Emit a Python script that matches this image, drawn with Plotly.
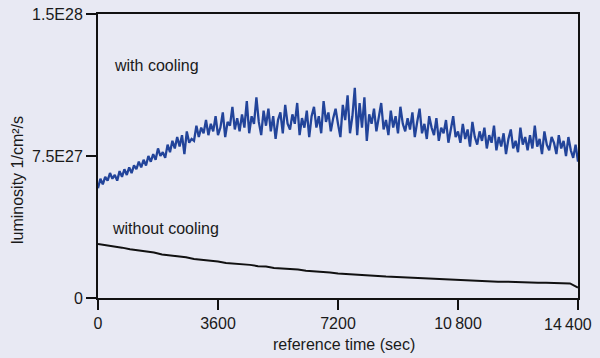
import numpy as np
import plotly.graph_objects as go

# luminosity in units of 1E27 1/cm^2/s
with_cooling = [
    5.8, 6.3, 6.0, 6.4, 6.2, 6.6, 6.3, 6.5, 6.2, 6.7,
    6.4, 6.8, 6.5, 6.9, 6.6, 7.0, 6.8, 7.2, 6.9, 7.3,
    7.0, 7.5, 7.2, 7.6, 7.3, 7.9, 7.5, 7.7, 7.4, 8.1,
    7.7, 8.3, 7.9, 8.5, 8.0, 8.6, 7.6, 8.8, 8.2, 8.4,
    8.3, 9.1, 8.5, 9.0, 8.7, 9.4, 8.6, 9.2, 8.8, 9.6,
    8.6, 9.0, 9.8, 8.5, 9.3, 9.1, 10.1, 8.9, 9.5, 8.8,
    9.7, 9.0, 10.4, 8.7, 9.6, 9.2, 10.6, 9.3, 8.6, 9.9,
    9.1, 10.0, 8.8, 9.6, 8.4, 9.4, 9.8, 8.7, 10.2, 9.2,
    8.9, 9.7, 9.2, 10.3, 8.6, 9.5, 9.0, 9.9, 8.5, 9.6,
    10.1, 9.0, 9.6, 8.7, 10.4, 9.3, 9.8, 8.8, 9.5, 10.0,
    9.2, 8.5, 10.2, 9.4, 10.7, 8.7, 9.6, 11.1, 8.6, 10.3,
    9.0, 10.6, 8.3, 9.7, 9.2, 10.0, 8.8, 9.5, 10.3, 8.9,
    9.4, 8.6, 9.9, 9.0, 9.6, 8.7, 10.1, 9.2, 8.8, 9.5,
    8.9, 9.8, 8.5, 9.3, 10.0, 8.7, 9.2, 8.4, 9.6, 9.0,
    8.6, 9.5, 8.3, 9.0, 8.7, 9.4, 8.2, 8.9, 9.6, 8.5,
    8.8, 8.2, 9.2, 8.4, 8.9, 8.0, 9.3, 8.5, 8.1, 8.8,
    8.3, 9.0, 7.9, 8.6, 8.2, 9.1, 7.8, 8.5, 8.0, 8.7,
    7.6, 8.4, 8.9, 7.9, 8.3, 7.7, 9.0, 8.1, 8.5, 7.8,
    8.6, 7.9, 9.1, 8.0, 8.4, 7.6, 8.8, 8.1, 7.8, 8.5,
    8.2, 7.6, 8.6, 7.9, 8.3, 7.5, 8.5, 7.8, 7.4, 8.1,
    7.2,
]

without_cooling = [
    2.85, 2.80, 2.71, 2.66, 2.57, 2.52, 2.43, 2.40, 2.30, 2.26,
    2.19, 2.15, 2.06, 2.02, 1.95, 1.93, 1.85, 1.82, 1.77, 1.75,
    1.68, 1.66, 1.59, 1.57, 1.52, 1.50, 1.44, 1.42, 1.37, 1.35,
    1.30, 1.28, 1.24, 1.22, 1.18, 1.16, 1.13, 1.11, 1.07, 1.06,
    1.03, 1.02, 0.98, 0.98, 0.95, 0.94, 0.92, 0.91, 0.89, 0.88,
    0.86, 0.86, 0.84, 0.83, 0.82, 0.81, 0.80, 0.79, 0.78, 0.77,
    0.55,
]

t_max = 14400
x_tickvals = [0, 3600, 7200, 10800, 14400]
x_ticktext = ["0", "3600", "7200", "10\u2009800", ""]
last_x_label = "14\u2009400"
y_tickvals = [0, 7.5e27, 1.5e28]
y_ticktext = ["0", "7.5E27", "1.5E28"]

t_with = np.linspace(0, t_max, len(with_cooling))
t_without = np.linspace(0, t_max, len(without_cooling))

BG = "#e8e9f3"
FONT = "Liberation Sans, Arial, sans-serif"
TXT = "#1a1a1a"

fig = go.Figure()
fig.add_trace(go.Scatter(x=t_with, y=np.array(with_cooling) * 1e27, mode="lines",
                         line=dict(color="#22449a", width=2.3), showlegend=False))
fig.add_trace(go.Scatter(x=t_without, y=np.array(without_cooling) * 1e27, mode="lines",
                         line=dict(color="#111111", width=2), showlegend=False))

fig.add_annotation(x=0.029, y=0.817, xref="paper", yref="paper", text="with cooling",
                   showarrow=False, xanchor="left", yanchor="middle",
                   font=dict(size=16, color=TXT, family=FONT))
fig.add_annotation(x=0.025, y=0.243, xref="paper", yref="paper", text="without cooling",
                   showarrow=False, xanchor="left", yanchor="middle",
                   font=dict(size=16, color=TXT, family=FONT))
# last x tick label, pulled in so it stays inside the picture
fig.add_annotation(x=1.033, y=-0.093, xref="paper", yref="paper", text=last_x_label,
                   showarrow=False, xanchor="right", yanchor="middle",
                   font=dict(size=16, color=TXT, family=FONT))
# axis titles
fig.add_annotation(x=0.5125, y=-0.165, xref="paper", yref="paper", text="reference time (sec)",
                   showarrow=False, xanchor="center", yanchor="middle",
                   font=dict(size=16, color=TXT, family=FONT))
fig.add_annotation(x=-0.169, y=0.415, xref="paper", yref="paper", text="luminosity 1/cm\u00b2/s",
                   showarrow=False, xanchor="center", yanchor="middle", textangle=-90,
                   font=dict(size=16, color=TXT, family=FONT))

fig.update_layout(
    width=600, height=358,
    margin=dict(l=98, r=22, t=14, b=60, autoexpand=False),
    paper_bgcolor=BG, plot_bgcolor=BG,
    font=dict(family=FONT, size=16, color=TXT),
    xaxis=dict(range=[0, t_max], tickvals=x_tickvals, ticktext=x_ticktext,
               ticks="outside", ticklen=10, tickwidth=1.5, tickcolor="#111",
               showline=True, linecolor="#111", linewidth=2, mirror=True,
               showgrid=False, zeroline=False, automargin=False,
               ticklabeloverflow="allow"),
    yaxis=dict(range=[0, 1.5e28], tickvals=y_tickvals, ticktext=y_ticktext,
               ticks="outside", ticklen=10, tickwidth=1.5, tickcolor="#111",
               showline=True, linecolor="#111", linewidth=2, mirror=True,
               showgrid=False, zeroline=False, automargin=False,
               ticklabeloverflow="allow"),
)

fig.write_html("out.html", config={"displayModeBar": False, "staticPlot": True},
               post_script="document.body.style.margin='0';document.body.style.background='%s';" % BG)
